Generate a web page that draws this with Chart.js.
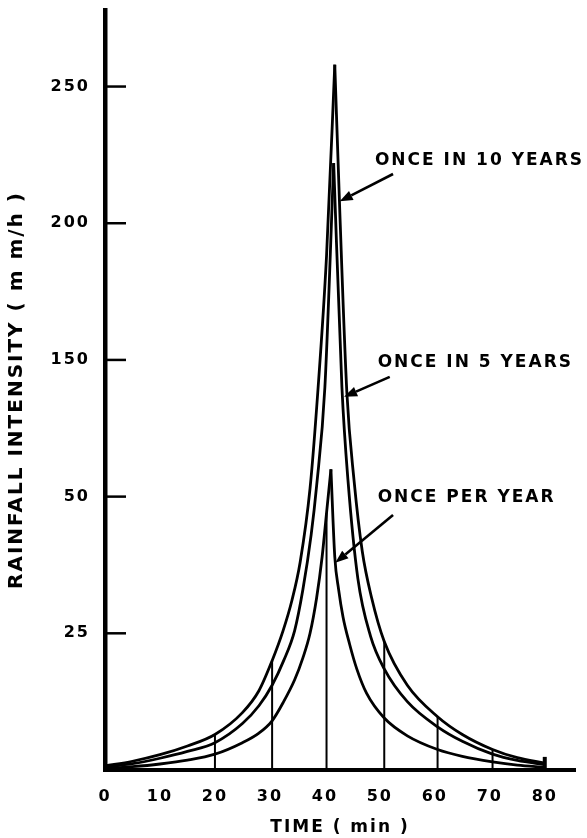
<!DOCTYPE html>
<html>
<head>
<meta charset="utf-8">
<script src="https://cdn.jsdelivr.net/npm/chart.js@4.4.0/dist/chart.umd.min.js"></script>
<style>
html,body{margin:0;padding:0;background:#fff;}
#wrap{width:587px;height:838px;}
</style>
</head>
<body>
<div id="wrap"><canvas id="c" width="587" height="838"></canvas></div>
<script>
// ---- data (time in min, rainfall intensity in axis units) ----
const tenYearTime = [0, 5, 10, 15, 20, 25, 28, 30.4, 32.4, 34, 35.5, 37.3, 38.7, 40.3, 41.8, 42.7, 44, 45.3, 46.8, 48.5, 50.8, 55, 60.5, 65, 70.5, 75, 80];
const tenYearRate = [1.5, 3.2, 5.6, 8.8, 13, 21, 29, 40, 51, 62, 76, 103, 138, 188, 258, 205, 138, 106, 80, 63, 47, 31, 19.5, 13, 7.5, 4.5, 2.5];

const fiveYearTime = [0, 5, 10, 15, 20, 25, 28, 30.4, 32.5, 34.5, 36, 37.5, 38.5, 40, 41.6, 43.1, 44.2, 46, 48.3, 50.8, 55, 60.5, 65, 70.5, 75, 80];
const fiveYearRate = [1, 2.3, 4.3, 6.8, 10, 17, 23.5, 31, 40, 51, 66, 86, 104, 140, 222, 140, 106, 70, 49, 37, 25, 15.8, 10.5, 5.8, 3.5, 2];

const oneYearTime = [0, 5, 10, 15, 20, 25, 28, 30.4, 32.5, 34.5, 36, 37.3, 38.5, 39.5, 40.3, 41.1, 41.8, 42.5, 43.3, 44.5, 45.8, 47.6, 50.8, 55, 60.5, 65, 70.5, 75, 80];
const oneYearRate = [0.5, 1.2, 2.2, 3.6, 5.8, 10, 13.5, 18, 25, 33, 41, 50, 63, 78, 94, 110, 78, 66, 56, 46, 37, 28, 19, 12.5, 7.5, 5, 3, 1.8, 1];

// vertical marker lines (time, top value)
const markerTimes = [20, 30.4, 40.3, 50.8, 60.5, 70.5, 80];
const markerTops  = [13, 40, 94, 47, 19.5, 7.5, 4.8];

const seriesNames = ['ONCE IN 10 YEARS', 'ONCE IN 5 YEARS', 'ONCE PER YEAR'];

const xTickValues = [0, 10, 20, 30, 40, 50, 60, 70, 80];
const yTickValues = [50, 100, 150, 200, 250];
const yTickLabels = ['25', '50', '150', '200', '250'];

// ---- annotation placement (data units) ----
const labelAnchors = [ {t: 49.1, v: 223}, {t: 49.6, v: 149}, {t: 49.6, v: 99.6} ];
const arrowDefs = [
  {from: {t: 52.4, v: 218}, to: {t: 42.7, v: 208}},
  {from: {t: 51.8, v: 143.8}, to: {t: 43.5, v: 136.5}},
  {from: {t: 52.4, v: 93.3}, to: {t: 41.9, v: 75.8}}
];

function branches(times, rates) {
  let iMax = 0;
  rates.forEach((r, i) => { if (r > rates[iMax]) iMax = i; });
  const pts = times.map((t, i) => ({x: t, y: rates[i]}));
  return [pts.slice(0, iMax + 1), pts.slice(iMax)];
}

const curveStyle = {
  borderColor: '#000', borderWidth: 2.8, pointRadius: 0, fill: false,
  cubicInterpolationMode: 'monotone'
};

const datasets = [];
[[tenYearTime, tenYearRate], [fiveYearTime, fiveYearRate], [oneYearTime, oneYearRate]].forEach((s, k) => {
  const [l, r] = branches(s[0], s[1]);
  datasets.push(Object.assign({label: seriesNames[k], data: l}, curveStyle));
  datasets.push(Object.assign({label: seriesNames[k], data: r}, curveStyle));
});
markerTimes.forEach((t, i) => {
  datasets.push({
    label: 'marker', data: [{x: t, y: 0}, {x: t, y: markerTops[i]}],
    borderColor: '#000', borderWidth: i === markerTimes.length - 1 ? 4 : 2,
    pointRadius: 0, tension: 0, fill: false
  });
});

const spacingPlugin = {
  id: 'spacing',
  beforeDraw(chart) { chart.ctx.letterSpacing = '2px'; }
};

const decorPlugin = {
  id: 'decor',
  afterDraw(chart) {
    const ctx = chart.ctx, xs = chart.scales.x, ys = chart.scales.y, ca = chart.chartArea;
    ctx.save();
    ctx.letterSpacing = '2px';
    ctx.strokeStyle = '#000';
    ctx.lineWidth = 2.5;
    yTickValues.forEach(v => {
      const y = ys.getPixelForValue(v);
      ctx.beginPath(); ctx.moveTo(ca.left, y); ctx.lineTo(ca.left + 21, y); ctx.stroke();
    });
    ctx.fillStyle = '#000';
    ctx.font = 'bold 17px "DejaVu Sans"';
    ctx.textAlign = 'left';
    ctx.textBaseline = 'middle';
    seriesNames.forEach((name, i) => {
      ctx.fillText(name, xs.getPixelForValue(labelAnchors[i].t), ys.getPixelForValue(labelAnchors[i].v));
    });
    arrowDefs.forEach(a => {
      const x1 = xs.getPixelForValue(a.from.t), y1 = ys.getPixelForValue(a.from.v);
      const x2 = xs.getPixelForValue(a.to.t), y2 = ys.getPixelForValue(a.to.v);
      const ang = Math.atan2(y2 - y1, x2 - x1);
      const hl = 13, hw = 5;
      const bx = x2 - hl * Math.cos(ang), by = y2 - hl * Math.sin(ang);
      ctx.lineWidth = 2.6;
      ctx.beginPath(); ctx.moveTo(x1, y1); ctx.lineTo(bx, by); ctx.stroke();
      ctx.beginPath();
      ctx.moveTo(x2, y2);
      ctx.lineTo(bx + hw * Math.sin(ang), by - hw * Math.cos(ang));
      ctx.lineTo(bx - hw * Math.sin(ang), by + hw * Math.cos(ang));
      ctx.closePath(); ctx.fill();
    });
    ctx.restore();
  }
};

new Chart(document.getElementById('c'), {
  type: 'line',
  data: {datasets},
  options: {
    responsive: false,
    animation: false,
    devicePixelRatio: 1,
    layout: {padding: {top: 10, right: 12, left: 0, bottom: 0}},
    plugins: {legend: {display: false}, tooltip: {enabled: false}},
    scales: {
      x: {
        type: 'linear', min: 0, max: 85.5,
        afterBuildTicks(scale) { scale.ticks = xTickValues.map(v => ({value: v})); },
        afterFit(scale) { scale.height = 68; scale.paddingLeft = 0; scale.paddingRight = 0; },
        ticks: {color: '#000', padding: 17, maxRotation: 0, autoSkip: false,
                font: {family: 'DejaVu Sans', weight: 'bold', size: 16}},
        grid: {display: false, drawTicks: false},
        border: {display: true, width: 4, color: '#000'},
        title: {display: true, text: 'TIME ( min )', color: '#000',
                font: {family: 'DejaVu Sans', weight: 'bold', size: 17},
                padding: {top: 0, bottom: 0}}
      },
      y: {
        type: 'linear', min: 0, max: 278,
        afterBuildTicks(scale) { scale.ticks = yTickValues.map(v => ({value: v})); },
        afterFit(scale) { scale.width = 105; scale.paddingTop = 0; scale.paddingBottom = 0; },
        ticks: {color: '#000', padding: 15, autoSkip: false,
                font: {family: 'DejaVu Sans', weight: 'bold', size: 16},
                callback(v) { const i = yTickValues.indexOf(v); return i >= 0 ? yTickLabels[i] : ''; }},
        grid: {display: false, drawTicks: false},
        border: {display: true, width: 4.5, color: '#000'},
        title: {display: true, text: 'RAINFALL INTENSITY ( m m/h )', color: '#000',
                font: {family: 'DejaVu Sans', weight: 'bold', size: 20},
                padding: {top: 5, bottom: 0}}
      }
    }
  },
  plugins: [spacingPlugin, decorPlugin]
});
</script>
</body>
</html>
